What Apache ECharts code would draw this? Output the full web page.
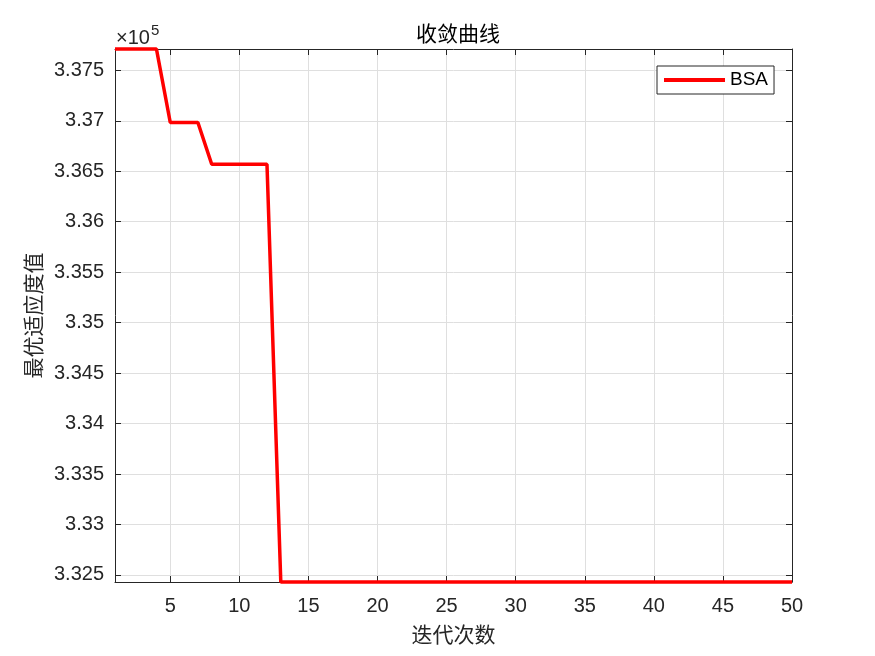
<!DOCTYPE html>
<html>
<head>
<meta charset="utf-8">
<script src="https://cdn.jsdelivr.net/npm/echarts@6/dist/echarts.min.js"></script>
<style>html,body{margin:0;padding:0;background:#fff}#c{width:875px;height:656px}</style>
</head>
<body>
<div id="c"></div>
<script>
const iterations = [];
for (let i = 1; i <= 50; i++) iterations.push(i);
const bsaValues = [
  337711, 337711, 337711, 337711,
  336983, 336983, 336983,
  336569, 336569, 336569, 336569, 336569,
  332430, 332430, 332430, 332430, 332430, 332430, 332430, 332430, 332430, 332430,
  332430, 332430, 332430, 332430, 332430, 332430, 332430, 332430, 332430, 332430,
  332430, 332430, 332430, 332430, 332430, 332430, 332430, 332430, 332430, 332430,
  332430, 332430, 332430, 332430, 332430, 332430, 332430, 332430
];
const xTicks = [5, 10, 15, 20, 25, 30, 35, 40, 45, 50];
const yTicks = [332500, 333000, 333500, 334000, 334500, 335000, 335500, 336000, 336500, 337000, 337500];
const yMin = 332430, yMax = 337711;

const axisColor = '#262626';
const font = 'Liberation Sans, Arial, sans-serif';
const cjk = 'Noto Sans CJK SC, sans-serif';

const chart = echarts.init(document.getElementById('c'), null, {renderer: 'canvas'});
const fmtY = v => String(Math.round(v / 1e5 * 10000) / 10000);

chart.setOption({
  animation: false,
  backgroundColor: '#fff',
  title: {
    text: '收敛曲线', left: 453, top: 18, textAlign: 'center',
    textStyle: {fontFamily: cjk, fontSize: 21, fontWeight: 'normal', color: '#000'}
  },
  grid: {left: 115, top: 49, right: 83, bottom: 74, containLabel: false},
  legend: {
    data: ['BSA'], left: 657, top: 66, orient: 'vertical',
    icon: 'rect', itemWidth: 61, itemHeight: 4,
    padding: [4, 6, 4, 7], itemGap: 0,
    borderColor: axisColor, borderWidth: 1, backgroundColor: '#fff',
    textStyle: {fontFamily: font, fontSize: 19, lineHeight: 20, color: '#000'}
  },
  xAxis: [{
    type: 'value', min: 1, max: 50, position: 'bottom',
    name: '迭代次数', nameLocation: 'middle', nameGap: 42,
    nameTextStyle: {fontFamily: cjk, fontSize: 21, color: axisColor},
    axisLine: {show: true, lineStyle: {color: axisColor, width: 1}},
    axisTick: {show: true, inside: true, length: 6, customValues: xTicks, lineStyle: {color: axisColor}},
    axisLabel: {customValues: xTicks, fontFamily: font, fontSize: 20, color: axisColor, margin: 14},
    splitLine: {show: true, lineStyle: {color: '#dfdfdf', width: 1}}
  }, {
    type: 'value', min: 1, max: 50, position: 'top',
    axisLine: {show: true, lineStyle: {color: axisColor, width: 1}},
    axisTick: {show: true, inside: true, length: 6, customValues: xTicks, lineStyle: {color: axisColor}},
    axisLabel: {show: false}, splitLine: {show: false}
  }],
  yAxis: [{
    type: 'value', min: yMin, max: yMax, position: 'left',
    name: '最优适应度值', nameLocation: 'middle', nameGap: 71, nameRotate: 90,
    nameTextStyle: {fontFamily: cjk, fontSize: 21, color: axisColor},
    axisLine: {show: true, lineStyle: {color: axisColor, width: 1}},
    axisTick: {show: true, inside: true, length: 6, customValues: yTicks, lineStyle: {color: axisColor}},
    axisLabel: {customValues: yTicks, formatter: fmtY, fontFamily: font, fontSize: 20, color: axisColor, margin: 11},
    splitLine: {show: true, lineStyle: {color: '#dfdfdf', width: 1}}
  }, {
    type: 'value', min: yMin, max: yMax, position: 'right',
    axisLine: {show: true, lineStyle: {color: axisColor, width: 1}},
    axisTick: {show: true, inside: true, length: 6, customValues: yTicks, lineStyle: {color: axisColor}},
    axisLabel: {show: false}, splitLine: {show: false}
  }],
  graphic: [{
    type: 'text', left: 116, top: 23,
    style: {
      text: '{a|×10}{b|5}',
      rich: {
        a: {fontFamily: font, fontSize: 20, fill: axisColor, verticalAlign: 'bottom'},
        b: {fontFamily: font, fontSize: 15, fill: axisColor, verticalAlign: 'top', padding: [0, 0, 10, 1]}
      }
    }
  }],
  series: [{
    name: 'BSA', type: 'line', xAxisIndex: 0, yAxisIndex: 0,
    data: iterations.map((x, i) => [x, bsaValues[i]]),
    showSymbol: false, symbol: 'none', clip: false,
    lineStyle: {color: '#ff0000', width: 3.5},
    itemStyle: {color: '#ff0000'}
  }]
});
</script>
</body>
</html>
